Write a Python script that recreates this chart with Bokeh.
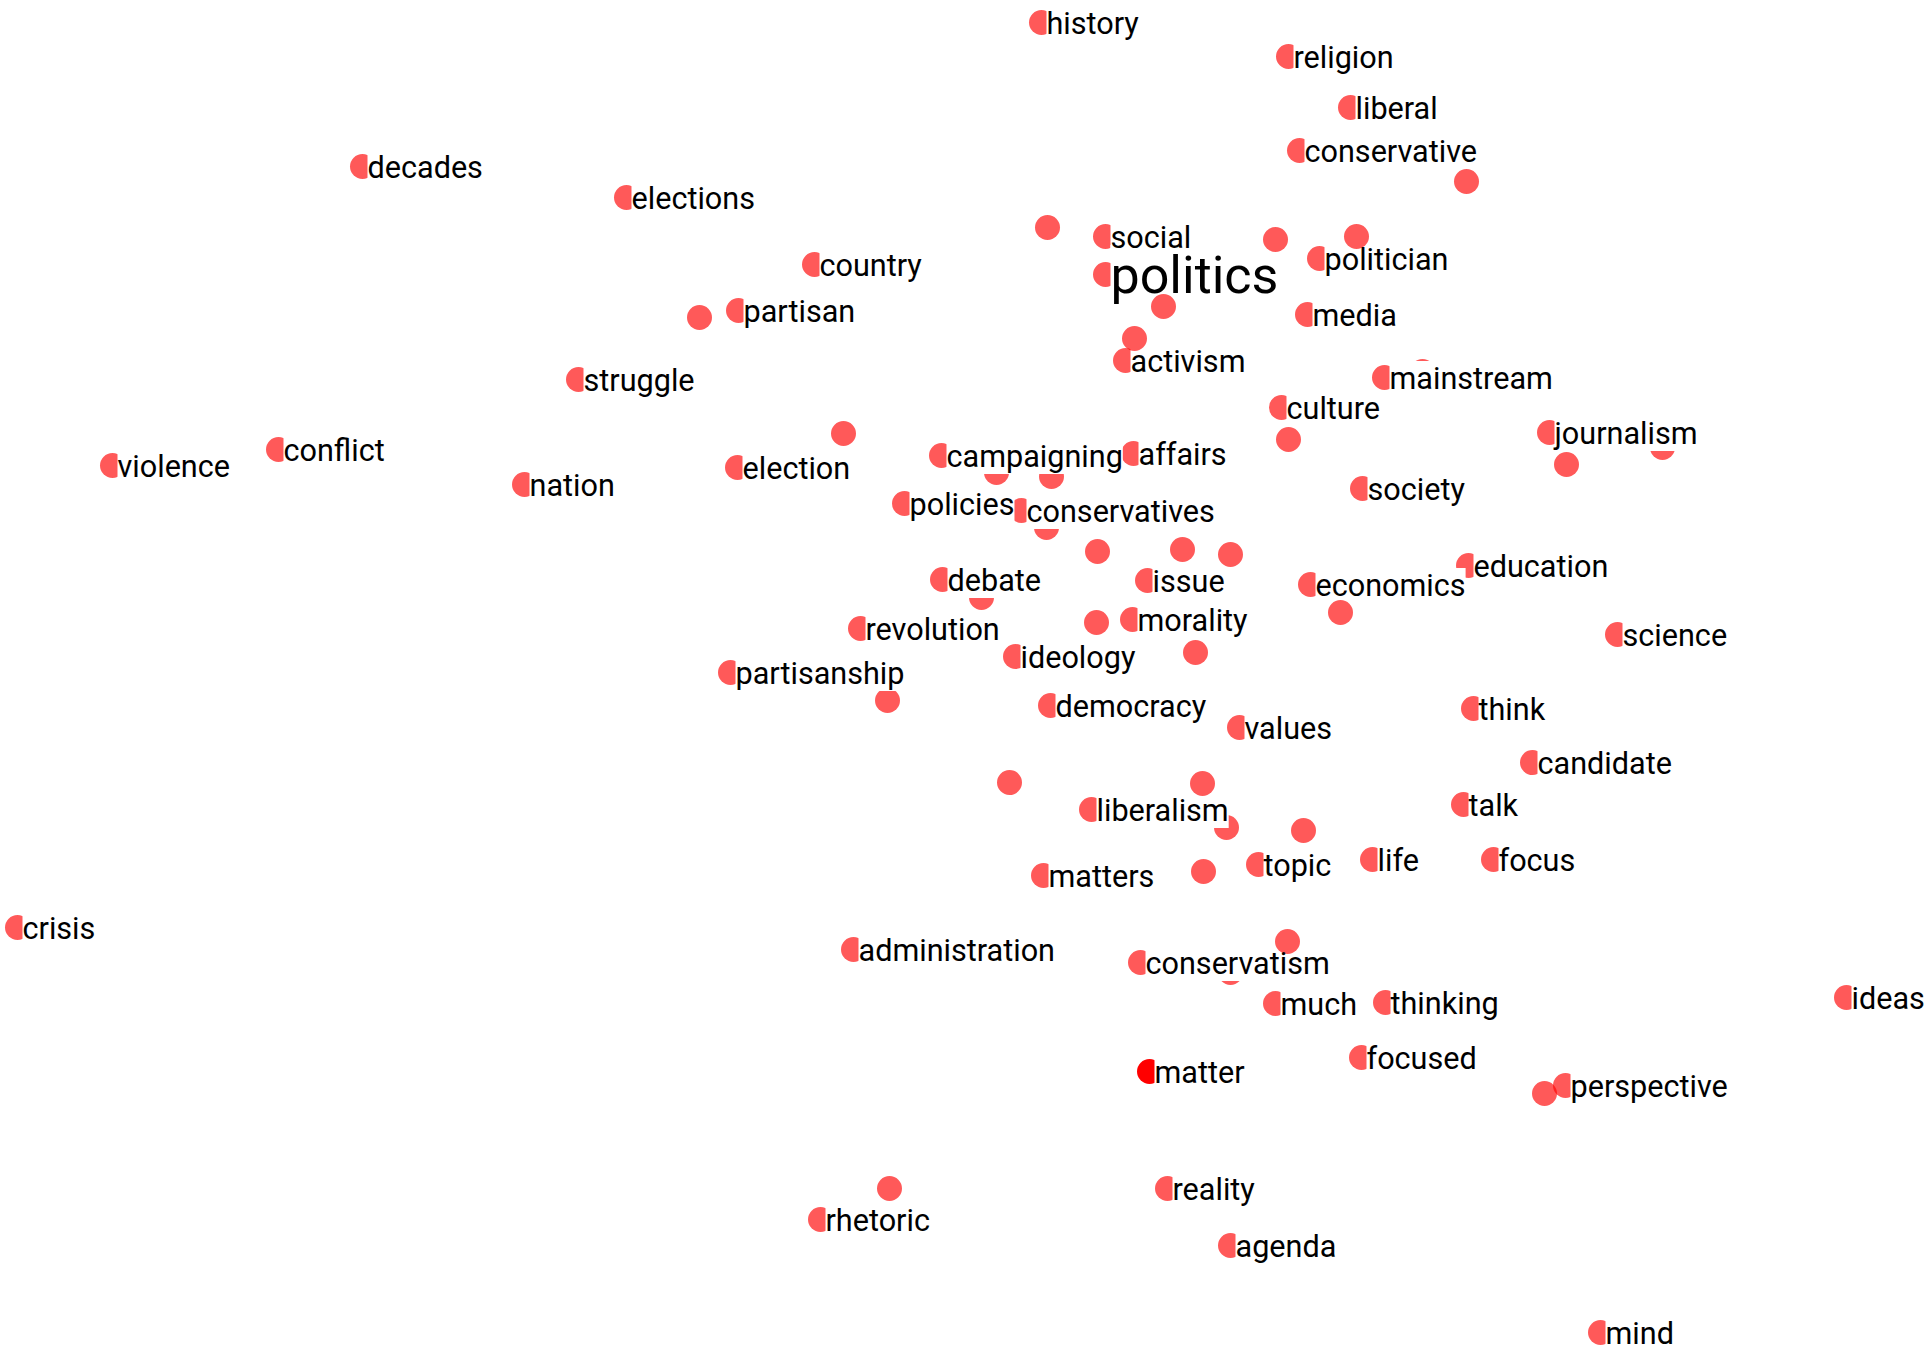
from bokeh.plotting import figure
from bokeh.models import ColumnDataSource, Range1d
from bokeh.core.properties import value
from bokeh.embed import file_html
from bokeh.resources import INLINE

# ---- data (positions of the 2-D word embedding) ----
words = ["history", "religion", "liberal", "conservative", "decades", "elections",
         "social", "politics", "politician", "country", "partisan", "media",
         "activism", "struggle", "mainstream", "culture", "journalism", "violence",
         "conflict", "nation", "election", "campaigning", "affairs", "society",
         "policies", "conservatives", "debate", "issue", "economics", "education",
         "revolution", "morality", "science", "ideology", "partisanship", "democracy",
         "values", "think", "candidate", "liberalism", "talk", "matters", "topic",
         "life", "focus", "crisis", "administration", "conservatism", "much",
         "thinking", "ideas", "focused", "matter", "perspective", "reality",
         "rhetoric", "agenda", "mind"]
word_x = [1041, 1288, 1350, 1299, 362, 626,
          1105, 1105, 1319, 814, 738, 1307,
          1125, 578, 1384, 1281, 1549, 112,
          278, 524, 737, 941, 1133, 1362,
          904, 1021, 942, 1147, 1310, 1468,
          860, 1132, 1617, 1015, 730, 1050,
          1239, 1473, 1532, 1091, 1463, 1043, 1258,
          1372, 1493, 17, 853, 1140, 1275,
          1385, 1846, 1361, 1149, 1565, 1167,
          820, 1230, 1600]
word_y = [22, 56, 107, 150, 166, 197,
          236, 274, 258, 264, 310, 314,
          360, 379, 377, 407, 432, 465,
          449, 484, 467, 455, 453, 488,
          503, 510, 579, 580, 584, 565,
          628, 619, 634, 656, 672, 705,
          727, 708, 762, 809, 804, 875, 864,
          859, 859, 927, 949, 962, 1003,
          1002, 997, 1057, 1071, 1085, 1188,
          1219, 1245, 1332]

# unlabeled neighbours
other_x = [1466, 1047, 1275, 1356, 1163, 1134, 699, 1422, 843, 1288,
           1566, 1662, 960, 996, 1051, 1046, 1097, 1182, 1230, 981,
           1340, 1096, 1195, 887, 1009, 1202, 1226, 1303, 1203, 1287,
           1230, 1544, 889]
other_y = [181, 227, 239, 236, 306, 338, 317, 371, 433, 439,
           464, 447, 461, 472, 476, 527, 551, 549, 554, 597,
           612, 622, 652, 700, 782, 783, 827, 830, 871, 941,
           972, 1093, 1188]
# whether a label's halo is drawn over that dot in the picture
other_under_label = [False, False, False, False, False, False, False, True, False, False,
                     False, True, True, True, True, True, False, False, False, True,
                     False, False, False, True, False, False, True, False, False, False,
                     True, False, False]

highlighted = "matter"
emphasised = "politics"

# ---- styling ----
DOT = "#ff0000"
W, H = 1927, 1348
FONT = value("Roboto")

p = figure(width=W, height=H, output_backend="svg", toolbar_location=None,
           x_range=Range1d(0, W), y_range=Range1d(H, 0),
           min_border=0, outline_line_color=None, background_fill_color="white",
           border_fill_color="white")
p.axis.visible = False
p.grid.visible = False

back_x = [x for x, b in zip(other_x, other_under_label) if b]
back_y = [y for y, b in zip(other_y, other_under_label) if b]
front_x = [x for x, b in zip(other_x, other_under_label) if not b]
front_y = [y for y, b in zip(other_y, other_under_label) if not b]

p.scatter(back_x, back_y, size=25, fill_color=DOT, fill_alpha=0.65, line_color=None)

alphas = [1.0 if w == highlighted else 0.65 for w in words]
p.scatter(word_x, word_y, size=25, fill_color=DOT, fill_alpha=alphas, line_color=None)

sizes = ["52px" if w == emphasised else "30.6px" for w in words]
src = ColumnDataSource(dict(x=word_x, y=word_y, text=words, fs=sizes))

# white halo boxes first (text itself invisible)
p.text(x="x", y="y", text="text", source=src, x_offset=5, y_offset=1,
       text_font=FONT, text_font_size="fs", text_alpha=0.0,
       text_align="left", text_baseline="middle",
       background_fill_color="white", padding=0)

p.scatter(front_x, front_y, size=25, fill_color=DOT, fill_alpha=0.65, line_color=None)

# the words on top
p.text(x="x", y="y", text="text", source=src, x_offset=5, y_offset=1,
       text_font=FONT, text_font_size="fs", text_color="black",
       text_align="left", text_baseline="middle")

open("out.html", "w").write(file_html(p, INLINE))
